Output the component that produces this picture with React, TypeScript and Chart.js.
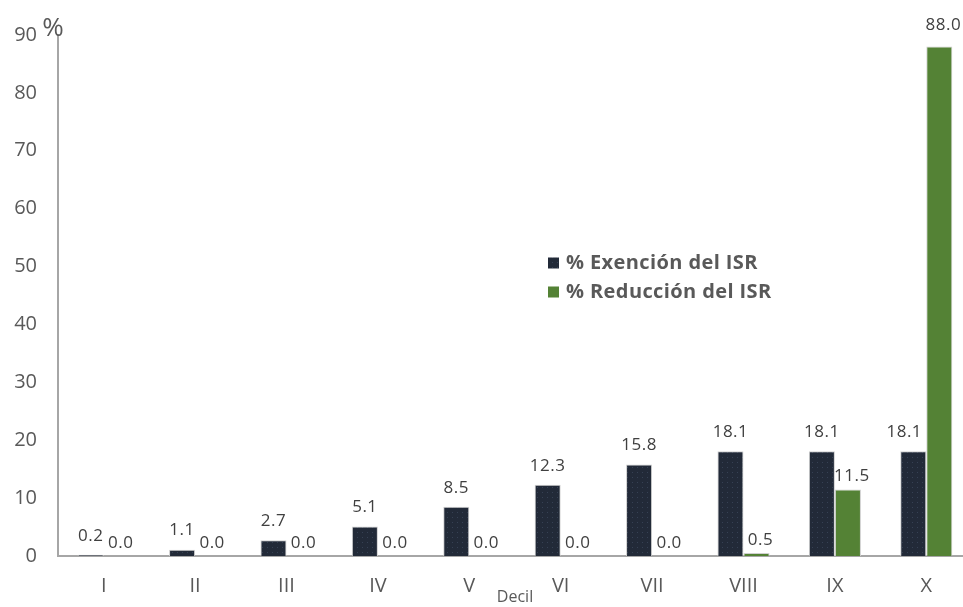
import React, { useEffect, useRef } from "react";
import { Chart, registerables } from "chart.js";

Chart.register(...registerables);

const categories = ["I", "II", "III", "IV", "V", "VI", "VII", "VIII", "IX", "X"];
const exencion = [0.2, 1.1, 2.7, 5.1, 8.5, 12.3, 15.8, 18.1, 18.1, 18.1];
const reduccion = [0.0, 0.0, 0.0, 0.0, 0.0, 0.0, 0.0, 0.5, 11.5, 88.0];
const seriesNames = ["% Exención del ISR", "% Reducción del ISR"];
const yAxisUnit = "%";
const xAxisTitle = "Decil";

const FONT = "'Open Sans', 'Noto Sans', sans-serif";
const TEXT = "#595959";
const AXIS = "#a6a6a6";
const GREEN = "#548235";

function makePattern(): CanvasPattern | string {
  const c = document.createElement("canvas");
  c.width = 5;
  c.height = 5;
  const g = c.getContext("2d");
  if (!g) return "#222a38";
  g.fillStyle = "#222a38";
  g.fillRect(0, 0, 5, 5);
  g.fillStyle = "#364154";
  g.fillRect(2, 2, 1, 1);
  return g.createPattern(c, "repeat") || "#222a38";
}

export default function App() {
  const ref = useRef<HTMLCanvasElement | null>(null);

  useEffect(() => {
    if (!ref.current) return;
    const pattern = makePattern();

    const overlay = {
      id: "overlay",
      afterDatasetsDraw(chart: any) {
        const ctx = chart.ctx;
        const ca = chart.chartArea;
        ctx.save();
        // data labels
        ctx.font = `17px ${FONT}`;
        (ctx as any).letterSpacing = "0.5px";
        ctx.fillStyle = "#404040";
        ctx.textAlign = "center";
        ctx.textBaseline = "middle";
        const metaA = chart.getDatasetMeta(0);
        const metaB = chart.getDatasetMeta(1);
        chart.data.datasets.forEach((ds: any, di: number) => {
          const meta = chart.getDatasetMeta(di);
          meta.data.forEach((el: any, i: number) => {
            const v = ds.data[i] as number;
            let dx = di === 1 ? 4 : 0;
            const dy = di === 0 ? 19 : 13;
            // avoid overlapping a taller neighbouring bar
            if (di === 0 && metaB.data[i].y < el.y - dy) dx = -9;
            if (di === 1 && metaA.data[i].y > el.y && ds.data[i] > 30) {
              // tall bar label sits a bit higher
            }
            ctx.fillText(v.toFixed(1), el.x + dx, el.y - (di === 1 && v > 50 ? 21 : dy));
          });
        });
        // unit label
        (ctx as any).letterSpacing = "0px";
        ctx.font = `26px ${FONT}`;
        ctx.fillStyle = TEXT;
        ctx.textAlign = "center";
        ctx.fillText(yAxisUnit, ca.left - 5, ca.top - 6);
        // legend
        const lx = ca.left + 490;
        const ly = ca.top + 228;
        const fills = [pattern, GREEN];
        ctx.font = `bold 20px ${FONT}`;
        (ctx as any).letterSpacing = "0.4px";
        ctx.textAlign = "left";
        seriesNames.forEach((name, i) => {
          const y = ly + i * 29;
          ctx.fillStyle = fills[i] as any;
          ctx.fillRect(lx, y - 5.5, 11, 11);
          ctx.fillStyle = TEXT;
          ctx.fillText(name, lx + 18, y);
        });
        ctx.restore();
      },
    };

    const chart = new Chart(ref.current, {
      type: "bar",
      data: {
        labels: categories,
        datasets: [
          {
            label: seriesNames[0],
            data: exencion,
            backgroundColor: pattern as any,
            borderColor: "#d0d0d0",
            borderWidth: 1,
            categoryPercentage: 0.57,
            barPercentage: 1.0,
          },
          {
            label: seriesNames[1],
            data: reduccion,
            backgroundColor: GREEN,
            borderColor: "#d0d0d0",
            borderWidth: 1,
            categoryPercentage: 0.57,
            barPercentage: 1.0,
          },
        ],
      },
      options: {
        animation: false,
        responsive: true,
        maintainAspectRatio: false,
        layout: { padding: { top: 35, left: 0, right: 0, bottom: 0 } },
        plugins: {
          legend: { display: false },
          tooltip: { enabled: false },
        },
        scales: {
          x: {
            grid: { display: false, drawTicks: false },
            border: { display: true, color: AXIS, width: 2 },
            ticks: { color: TEXT, font: { family: FONT, size: 20 }, padding: 18 },
            title: {
              display: true,
              text: xAxisTitle,
              color: TEXT,
              font: { family: FONT, size: 16 },
              padding: { top: 0, bottom: 0 },
            },
            afterFit(scale: any) {
              scale.height = 51;
            },
          },
          y: {
            min: 0,
            max: 90,
            grid: { display: false, drawTicks: false },
            border: { display: true, color: AXIS, width: 2 },
            ticks: { stepSize: 10, color: TEXT, font: { family: FONT, size: 20 }, padding: 21 },
            afterFit(scale: any) {
              scale.width = 58;
            },
          },
        },
      },
      plugins: [overlay],
    });
    return () => chart.destroy();
  }, []);

  return (
    <div style={{ position: "fixed", left: 0, top: 0, width: 963, height: 607, overflow: "hidden", background: "#fff" }}>
      <div style={{ position: "relative", width: 972, height: 607 }}>
        <canvas ref={ref} />
      </div>
    </div>
  );
}
